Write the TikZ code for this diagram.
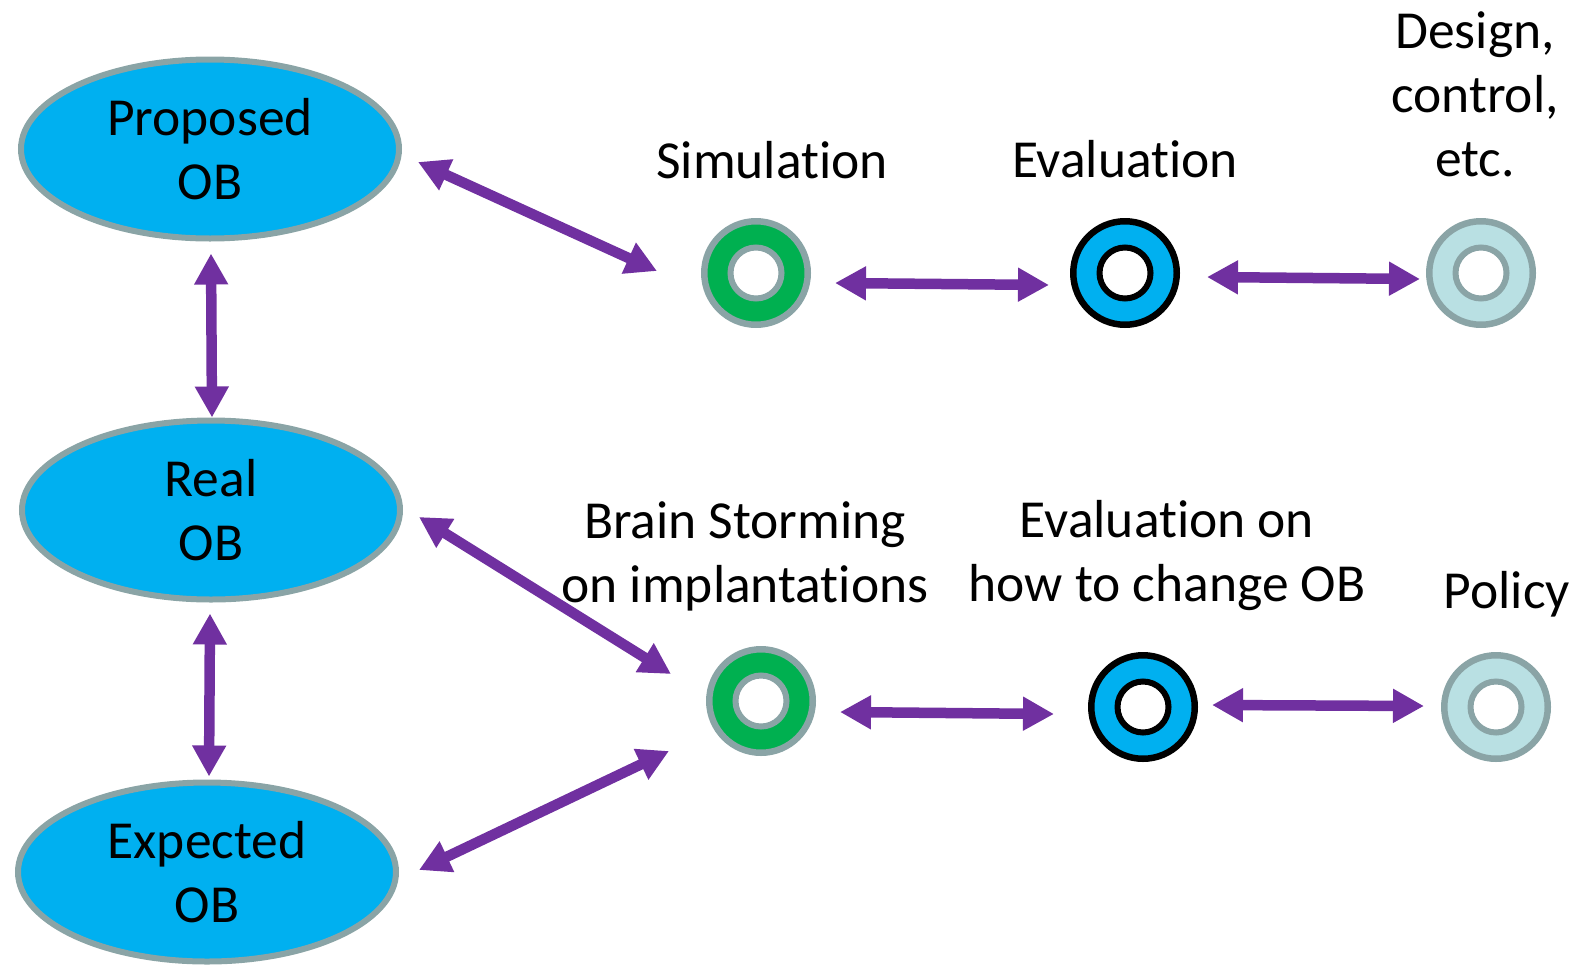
\documentclass[tikz,border=0pt]{standalone}
\usepackage{fontspec}
\setmainfont{Carlito}[Ligatures={NoCommon,NoRare,NoDiscretionary}]
\usetikzlibrary{arrows.meta,shapes.geometric,calc}
\definecolor{obblue}{HTML}{00B0F0}
\definecolor{obgreen}{HTML}{00B050}
\definecolor{obpale}{HTML}{B9E0E3}
\definecolor{obgray}{HTML}{8AA4A6}
\definecolor{obpurple}{HTML}{7030A0}
\begin{document}
\begin{tikzpicture}[x=1pt,y=-1pt,
  every node/.style={font=\fontsize{53.5}{64}\selectfont, align=center},
  obstate/.style={ellipse, fill=obblue, draw=obgray, line width=6pt,
    minimum width=378pt, minimum height=179pt, inner sep=0pt},
  ring/.style 2 args={circle, fill=#1, draw=#2, line width=6.5pt,
    minimum size=103.5pt, inner sep=0pt,
    path picture={\draw[#2, fill=white, line width=6pt]
      (path picture bounding box.center) circle[radius=25.5pt];}},
  link/.style={obpurple, line width=10.5pt,
    {Triangle[length=31pt,width=32pt]}-{Triangle[length=31pt,width=32pt]}},
  caption/.style={inner sep=0pt}]
\useasboundingbox (0,0) rectangle (1589,964);

% states of the occupant behaviour
\node[obstate] (prop) at (210,149) {Proposed\\OB};
\node[obstate] (real) at (211,510) {Real\\OB};
\node[obstate] (exp)  at (207,872) {Expected\\OB};

% upper chain
\node[ring={obgreen}{obgray}] (sim)    at (756,273) {};
\node[ring={obblue}{black}]   (eval)   at (1125,273) {};
\node[ring={obpale}{obgray}]  (design) at (1481,273) {};

% lower chain
\node[ring={obgreen}{obgray}] (brain)  at (761,701) {};
\node[ring={obblue}{black}]   (evalob) at (1143,707) {};
\node[ring={obpale}{obgray}]  (policy) at (1496,707) {};

% captions
\node[caption] (tsim)    at (772,160) {Simulation};
\node[caption] (teval)   at (1125,159) {Evaluation};
\node[caption] (tdesign) at (1475,94) {Design,\\control,\\etc.};
\node[caption] (tbrain)  at (745,556) {Brain Storming\\on implantations};
\node[caption] (tevalob) at (1167,556) {Evaluation on\\how to change OB};
\node[caption] (tpolicy) at (1507,594) {Policy};

% connectors
\draw[link] ($(prop.east)+(16,13)$) -- ($(sim.west)+(-44,-2)$);
\draw[link] ($(sim.east)+(24,10)$) -- ($(eval.west)+(-21,12)$);
\draw[link] ($(eval.east)+(27,4)$) -- ($(design.west)+(-6,6)$);
\draw[link] ($(prop.south)+(1,12)$) -- ($(real.north)+(1,0)$);
\draw[link] ($(real.south)+(-1,11)$) -- ($(exp.north)+(2,-3)$);
\draw[link] ($(real.east)+(16,7)$) -- ($(brain.west)+(-35,-27)$);
\draw[link] ($(exp.east)+(20,-2)$) -- ($(brain.west)+(-37,50)$);
\draw[link] ($(brain.east)+(24,11)$) -- ($(evalob.west)+(-34,7)$);
\draw[link] ($(evalob.east)+(14,-2)$) -- ($(policy.west)+(-17,-1)$);
\end{tikzpicture}
\end{document}
